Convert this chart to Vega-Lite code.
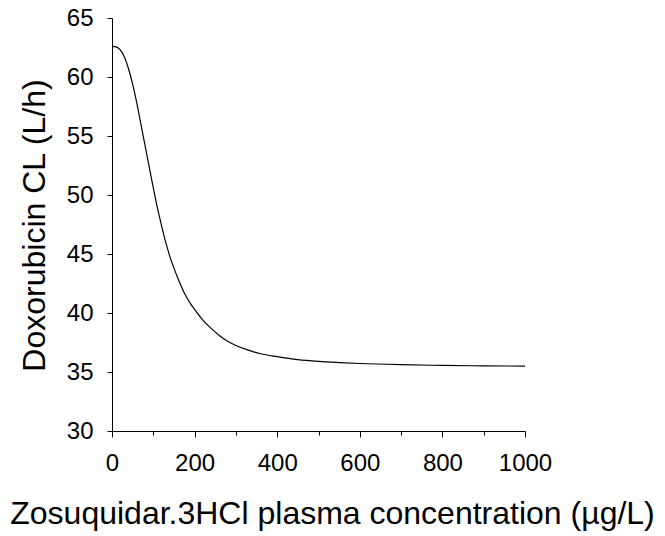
{
  "$schema": "https://vega.github.io/schema/vega-lite/v6.json",
  "autosize": "none",
  "width": 413,
  "height": 413,
  "padding": {"left": 112, "top": 18, "right": 140, "bottom": 105},
  "background": "white",
  "config": {
    "view": {"stroke": null},
    "font": "Liberation Sans",
    "axis": {
      "grid": false,
      "domainColor": "black",
      "domainWidth": 1,
      "tickColor": "black",
      "tickWidth": 1,
      "labelColor": "black",
      "titleColor": "black",
      "labelFont": "Liberation Sans",
      "titleFont": "Liberation Sans",
      "labelFontSize": 24,
      "titleFontSize": 32,
      "titleFontWeight": "normal"
    }
  },
  "data": {
    "values": [
      {"c": 0, "cl": 62.6},
      {"c": 10, "cl": 62.55},
      {"c": 20, "cl": 62.3},
      {"c": 30, "cl": 61.7},
      {"c": 40, "cl": 60.7},
      {"c": 50, "cl": 59.4},
      {"c": 60, "cl": 57.8},
      {"c": 70, "cl": 56.0},
      {"c": 80, "cl": 54.2},
      {"c": 90, "cl": 52.4},
      {"c": 100, "cl": 50.6},
      {"c": 110, "cl": 48.9},
      {"c": 120, "cl": 47.4},
      {"c": 130, "cl": 46.0},
      {"c": 140, "cl": 44.8},
      {"c": 150, "cl": 43.8},
      {"c": 160, "cl": 42.9},
      {"c": 175, "cl": 41.7},
      {"c": 190, "cl": 40.8},
      {"c": 200, "cl": 40.3},
      {"c": 220, "cl": 39.4},
      {"c": 240, "cl": 38.7},
      {"c": 260, "cl": 38.1},
      {"c": 280, "cl": 37.6},
      {"c": 300, "cl": 37.25},
      {"c": 330, "cl": 36.85},
      {"c": 360, "cl": 36.55},
      {"c": 400, "cl": 36.3},
      {"c": 450, "cl": 36.05},
      {"c": 500, "cl": 35.9},
      {"c": 550, "cl": 35.8},
      {"c": 600, "cl": 35.72},
      {"c": 700, "cl": 35.62},
      {"c": 800, "cl": 35.56},
      {"c": 900, "cl": 35.52},
      {"c": 1000, "cl": 35.5}
    ]
  },
  "layer": [
    {
      "mark": {"type": "line", "color": "black", "strokeWidth": 1.2, "interpolate": "monotone"},
      "encoding": {
        "x": {
          "field": "c", "type": "quantitative",
          "scale": {"domain": [0, 1000], "nice": false, "zero": false},
          "axis": {
            "orient": "bottom",
            "values": [0, 200, 400, 600, 800, 1000],
            "format": "d",
            "tickSize": 6,
            "labelPadding": 14,
            "labelFlush": false,
            "labelOverlap": false,
            "title": "Zosuquidar.3HCl plasma concentration (µg/L)",
            "titleBaseline": "alphabetic",
            "titleX": 220,
            "titleY": 92,
            "titleAnchor": "middle"
          }
        },
        "y": {
          "field": "cl", "type": "quantitative",
          "scale": {"domain": [30, 65], "nice": false, "zero": false},
          "axis": {
            "values": [30, 35, 40, 45, 50, 55, 60, 65],
            "format": "d",
            "tickSize": 5,
            "labelPadding": 14,
            "labelFlush": false,
            "labelOverlap": false,
            "title": "Doxorubicin CL  (L/h)",
            "titleAngle": -90,
            "titleBaseline": "middle",
            "titleX": -78,
            "titleY": 207,
            "titleAnchor": "middle"
          }
        }
      }
    },
    {
      "mark": {"type": "line", "opacity": 0},
      "encoding": {
        "x": {
          "field": "c", "type": "quantitative",
          "axis": {
            "orient": "bottom",
            "values": [100, 300, 500, 700, 900],
            "tickSize": 4,
            "labels": false,
            "domain": false,
            "title": null
          }
        },
        "y": {"field": "cl", "type": "quantitative"}
      }
    }
  ],
  "resolve": {"axis": {"x": "independent", "y": "shared"}}
}
